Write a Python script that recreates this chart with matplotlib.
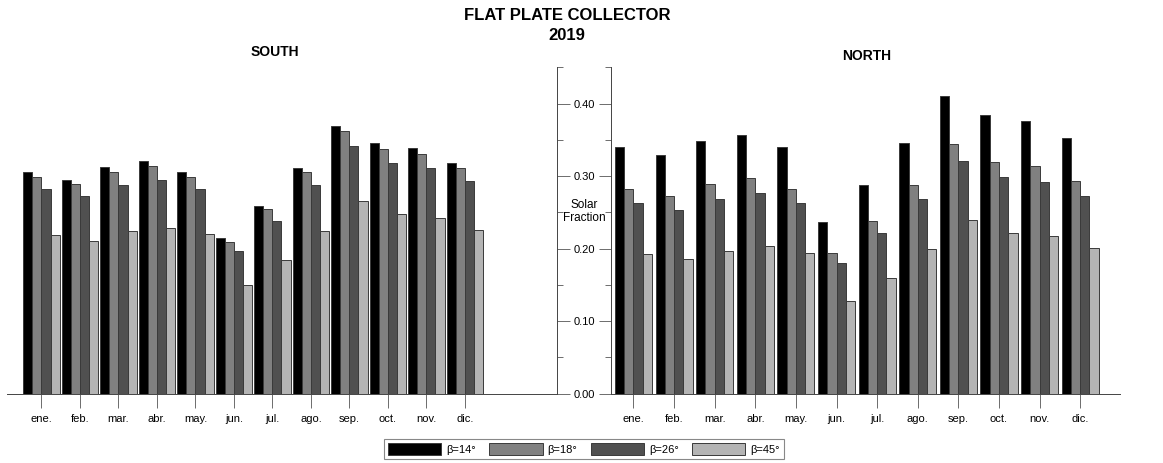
import numpy as np
import matplotlib.pyplot as plt
from matplotlib.ticker import MultipleLocator, NullFormatter

plt.rcParams['font.family'] = ['Liberation Sans', 'DejaVu Sans']

months = ['ene.', 'feb.', 'mar.', 'abr.', 'may.', 'jun.',
          'jul.', 'ago.', 'sep.', 'oct.', 'nov.', 'dic.']
series = ['β=14°', 'β=18°', 'β=26°', 'β=45°']
colors = ['#000000', '#808080', '#505050', '#b4b4b4']

# solar fraction, south orientation
south_14 = [0.306, 0.295, 0.312, 0.321, 0.306, 0.214, 0.259, 0.311, 0.369, 0.345, 0.338, 0.318]
south_18 = [0.299, 0.289, 0.306, 0.314, 0.299, 0.209, 0.254, 0.305, 0.362, 0.337, 0.331, 0.311]
south_26 = [0.282, 0.272, 0.288, 0.295, 0.282, 0.197, 0.238, 0.287, 0.341, 0.318, 0.311, 0.293]
south_45 = [0.219, 0.210, 0.224, 0.229, 0.220, 0.149, 0.184, 0.224, 0.266, 0.248, 0.242, 0.226]

# solar fraction, north orientation
north_14 = [0.340, 0.329, 0.348, 0.357, 0.340, 0.237, 0.288, 0.346, 0.411, 0.384, 0.376, 0.353]
north_18 = [0.282, 0.272, 0.289, 0.297, 0.282, 0.194, 0.238, 0.288, 0.344, 0.320, 0.314, 0.293]
north_26 = [0.263, 0.253, 0.268, 0.277, 0.263, 0.180, 0.222, 0.268, 0.321, 0.299, 0.292, 0.273]
north_45 = [0.193, 0.185, 0.197, 0.204, 0.194, 0.128, 0.160, 0.199, 0.239, 0.222, 0.217, 0.201]

south = [south_14, south_18, south_26, south_45]
north = [north_14, north_18, north_26, north_45]

W, H = 1163, 463
fig = plt.figure(figsize=(W / 100, H / 100), dpi=100)

y0, ytop = 393.5, 67.3
axL = fig.add_axes([7 / W, (H - y0) / H, 550 / W, (y0 - ytop) / H])
axR = fig.add_axes([611 / W, (H - y0) / H, 509 / W, (y0 - ytop) / H])

x = np.arange(len(months))


def draw(ax, data, bw, xlim):
    for i, (vals, c) in enumerate(zip(data, colors)):
        ax.bar(x + (i - 1.5) * bw, vals, bw, color=c, edgecolor='#3a3a3a',
               linewidth=0.7, label=series[i])
    ax.set_xlim(*xlim)
    ax.set_ylim(0, 0.45)
    ax.set_xticks(x)
    ax.set_xticklabels(months, fontsize=8)
    ax.tick_params(axis='x', length=10, width=0.6, color='#555555', pad=5)
    ax.yaxis.set_major_locator(MultipleLocator(0.1))
    ax.yaxis.set_minor_locator(MultipleLocator(0.05))
    ax.spines['top'].set_visible(False)
    for s in ax.spines.values():
        s.set_linewidth(0.7)
        s.set_color('#444444')


draw(axL, south, 0.234, (-0.896, 13.39))
draw(axR, north, 0.228, (-0.554, 11.98))

# left panel: axis on the right, carries the shared labels
axL.spines['left'].set_visible(False)
axL.yaxis.tick_right()
axL.tick_params(axis='y', which='major', length=9, width=0.6, color='#555555',
                labelsize=8, pad=10.8)
axL.tick_params(axis='y', which='minor', length=4.3, width=0.6, color='#555555')
axL.yaxis.set_major_formatter(plt.FuncFormatter(lambda v, p: f'{v:.2f}'))
for lab in axL.get_yticklabels():
    lab.set_horizontalalignment('center')

# right panel: axis on the left, no labels
axR.spines['right'].set_visible(False)
axR.tick_params(axis='y', which='major', length=9, width=0.6, color='#555555',
                labelleft=False)
axR.tick_params(axis='y', which='minor', length=4.3, width=0.6, color='#555555')
axR.yaxis.set_minor_formatter(NullFormatter())

fig.text(584 / W, 1 - 211.5 / H, 'Solar\nFraction', ha='center', va='center',
         fontsize=8.5, linespacing=1.1)

fig.text(567 / W, 1 - 16 / H, 'FLAT PLATE COLLECTOR', ha='center', va='center',
         fontsize=12, fontweight='bold')
fig.text(567 / W, 1 - 36 / H, '2019', ha='center', va='center',
         fontsize=12, fontweight='bold')
fig.text(274.5 / W, 1 - 52 / H, 'SOUTH', ha='center', va='center',
         fontsize=10, fontweight='bold')
fig.text(867 / W, 1 - 56 / H, 'NORTH', ha='center', va='center',
         fontsize=10, fontweight='bold')

handles, labels = axL.get_legend_handles_labels()
leg = fig.legend(handles, labels, ncol=4, loc='center',
                 bbox_to_anchor=(584 / W, 1 - 449 / H), fontsize=8,
                 handlelength=4.8, handleheight=1.2, handletextpad=0.45,
                 columnspacing=1.2, fancybox=False, framealpha=1,
                 edgecolor='#888888', borderpad=0.35)
leg.get_frame().set_linewidth(0.8)

fig.savefig('out.png', dpi=100)
